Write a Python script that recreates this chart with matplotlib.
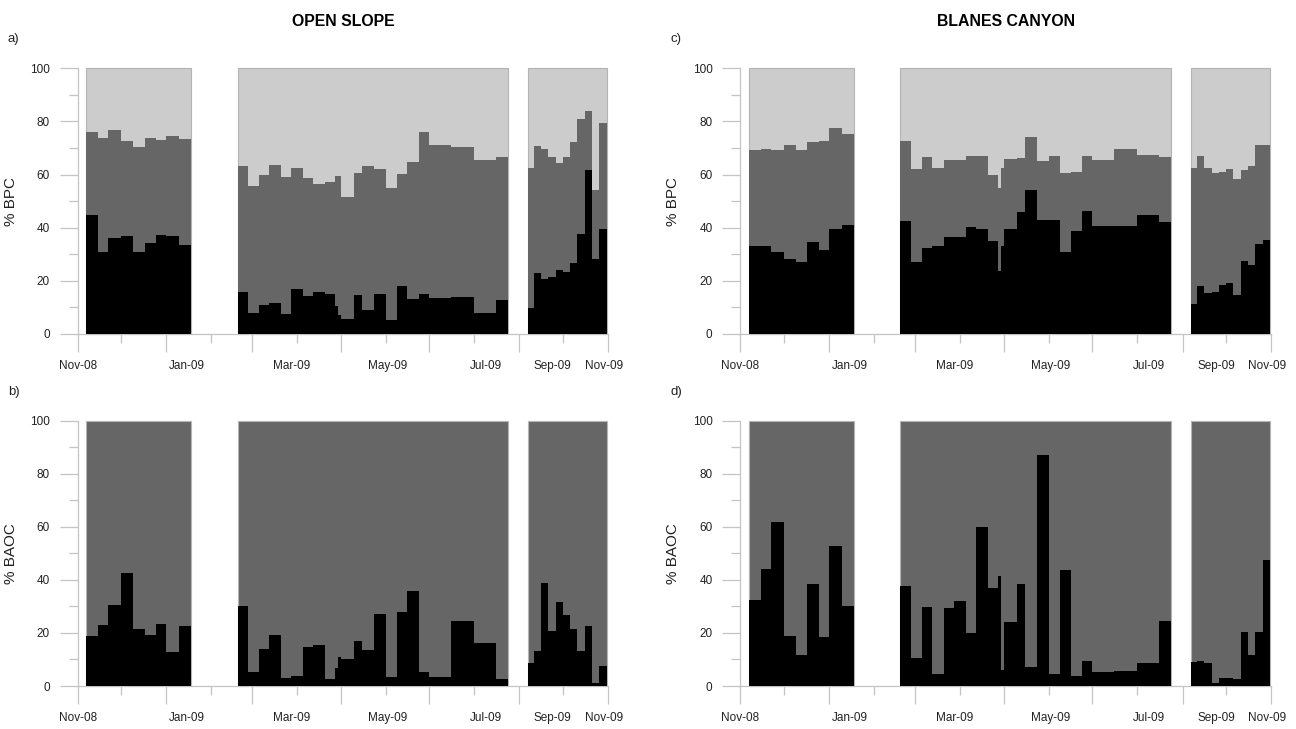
"""
Stacked step-area plots of % BPC and % BAOC,
Open Slope vs Blanes Canyon (Nov-08 to Nov-09)
"""

import numpy as np
import pandas as pd
import matplotlib
matplotlib.use('Agg')
import matplotlib.pyplot as plt
import matplotlib.dates as mdates
from matplotlib.ticker import NullFormatter, MultipleLocator

plt.rcParams['font.family'] = ['Liberation Sans', 'DejaVu Sans']

# Sampling periods: step edges (each step runs from one edge to the next)
edges_p1 = ['2008-11-07', '2008-11-15', '2008-11-22', '2008-12-01', '2008-12-09',
            '2008-12-17', '2008-12-25', '2009-01-01', '2009-01-10', '2009-01-18']
edges_p2 = ['2009-02-19', '2009-02-26', '2009-03-06', '2009-03-13', '2009-03-21',
            '2009-03-28', '2009-04-05', '2009-04-12', '2009-04-20', '2009-04-27',
            '2009-04-29', '2009-05-01', '2009-05-10', '2009-05-16', '2009-05-24',
            '2009-06-01', '2009-06-09', '2009-06-16', '2009-06-24', '2009-07-01',
            '2009-07-16', '2009-08-01', '2009-08-16', '2009-08-24']
edges_p3 = ['2009-09-07', '2009-09-11', '2009-09-16', '2009-09-21', '2009-09-26',
            '2009-10-01', '2009-10-06', '2009-10-11', '2009-10-16', '2009-10-21',
            '2009-10-26', '2009-10-31']

# a) Open slope, % BPC (bottom = black, middle = dark grey, rest = light grey)
os_bpc_bottom = [
    [44.7, 30.7, 36.0, 36.8, 30.9, 34.3, 37.3, 36.9, 33.4],
    [15.8, 8.0, 11.0, 11.8, 7.4, 16.8, 14.2, 15.8, 14.9, 10.5, 7.0, 5.6,
     14.7, 9.0, 14.9, 5.3, 17.9, 13.3, 14.9, 13.6, 13.9, 8.0, 12.7],
    [9.7, 22.8, 20.6, 21.3, 24.1, 23.2, 26.9, 37.6, 61.7, 28.2, 39.5],
]
os_bpc_middle = [
    [31.2, 43.2, 40.7, 35.7, 39.4, 39.6, 35.7, 37.6, 40.0],
    [47.4, 47.7, 48.7, 51.7, 51.7, 45.8, 44.4, 40.5, 42.3, 49.0, 52.5, 46.1,
     45.8, 54.2, 47.1, 49.5, 42.5, 51.3, 61.3, 57.7, 56.6, 57.6, 54.1],
    [52.7, 48.0, 48.9, 45.5, 40.1, 43.6, 45.4, 43.5, 22.4, 26.0, 39.8],
]

# b) Open slope, % BAOC (bottom = black, rest = dark grey)
os_baoc_bottom = [
    [18.7, 22.9, 30.5, 42.5, 21.4, 19.2, 23.2, 12.8, 22.5],
    [30.3, 5.4, 14.1, 19.3, 2.9, 3.6, 14.8, 15.3, 2.8, 6.7, 10.8, 10.1,
     16.8, 13.6, 27.0, 3.5, 27.8, 35.7, 5.2, 3.5, 24.5, 16.2, 2.5],
    [8.8, 13.2, 38.7, 20.6, 31.7, 26.9, 21.5, 13.3, 22.6, 1.3, 7.4],
]

# c) Blanes Canyon, % BPC
bc_bpc_bottom = [
    [33.0, 33.1, 30.7, 28.1, 27.2, 34.8, 31.6, 39.6, 41.0],
    [42.5, 27.2, 32.5, 33.1, 36.5, 36.4, 40.4, 39.6, 35.0, 23.7, 33.1, 39.6,
     46.0, 54.2, 42.8, 42.9, 30.7, 38.9, 46.4, 40.7, 40.7, 44.8, 42.0],
    [11.2, 18.1, 15.3, 15.9, 18.6, 19.2, 14.7, 27.4, 25.8, 33.8, 35.3],
]
bc_bpc_middle = [
    [36.3, 36.4, 38.7, 42.9, 42.1, 37.5, 40.9, 37.8, 34.2],
    [30.1, 34.8, 34.1, 29.5, 28.9, 29.2, 26.5, 27.3, 24.8, 31.1, 29.3, 26.3,
     20.2, 19.8, 22.2, 24.0, 29.8, 22.1, 20.7, 24.7, 28.8, 22.5, 24.5],
    [51.3, 49.0, 47.2, 44.6, 42.4, 43.0, 43.5, 34.2, 37.3, 37.2, 35.7],
]

# d) Blanes Canyon, % BAOC
bc_baoc_bottom = [
    [32.5, 44.0, 61.9, 18.8, 11.8, 38.3, 18.5, 52.8, 30.0],
    [37.7, 10.4, 29.6, 4.5, 29.3, 32.2, 20.1, 60.1, 36.8, 41.6, 6.0, 24.1,
     38.4, 7.0, 87.1, 4.4, 43.6, 3.9, 9.5, 5.2, 5.8, 8.5, 24.4],
    [9.0, 9.5, 8.5, 1.0, 3.0, 3.0, 2.5, 20.5, 11.5, 20.5, 47.5],
]

# x tick labels and where they sit
xlabel_text = ['Nov-08', 'Jan-09', 'Mar-09', 'May-09', 'Jul-09', 'Sep-09', 'Nov-09']
xlabel_dates = ['2008-11-01', '2009-01-15', '2009-03-28', '2009-06-02',
                '2009-08-09', '2009-09-24', '2009-10-29']

LIGHT = '#cccccc'
DARK = '#666666'
AXIS_GREY = '#c4c4c4'

periods = [mdates.date2num(pd.to_datetime(e)) for e in (edges_p1, edges_p2, edges_p3)]

fig = plt.figure(figsize=(12.96, 7.29), dpi=100)

positions = {
    'a': [0.05995, 0.54184, 0.40918, 0.36447],
    'b': [0.05995, 0.05898, 0.40918, 0.36393],
    'c': [0.57122, 0.54184, 0.40972, 0.36447],
    'd': [0.57122, 0.05898, 0.40972, 0.36393],
}

panels = [
    ('a', os_bpc_bottom, os_bpc_middle, '% BPC'),
    ('b', os_baoc_bottom, None, '% BAOC'),
    ('c', bc_bpc_bottom, bc_bpc_middle, '% BPC'),
    ('d', bc_baoc_bottom, None, '% BAOC'),
]


def steps(vals):
    vals = np.asarray(vals, dtype=float)
    return np.append(vals, vals[-1])


for key, bottom, middle, ylab in panels:
    ax = fig.add_axes(positions[key])

    for x, b_vals, i in zip(periods, bottom, range(3)):
        full = np.full(len(x), 100.0)
        top_col = LIGHT if middle is not None else DARK
        ax.fill_between(x, 0, full, step='post', facecolor=top_col,
                        edgecolor='#b4b4b4', linewidth=0.8, clip_on=False, zorder=1)
        if middle is not None:
            cum = steps(np.array(b_vals) + np.array(middle[i]))
            ax.fill_between(x, 0, cum, step='post', facecolor=DARK,
                            linewidth=0, zorder=2)
        ax.fill_between(x, 0, steps(b_vals), step='post', facecolor='black',
                        linewidth=0, zorder=3)

    ax.set_xlim(mdates.date2num(pd.Timestamp('2008-11-01')),
                mdates.date2num(pd.Timestamp('2009-11-01')))
    ax.set_ylim(0, 100)

    # Axes styling
    for side in ['top', 'right']:
        ax.spines[side].set_visible(False)
    for side in ['left', 'bottom']:
        ax.spines[side].set_color(AXIS_GREY)
        ax.spines[side].set_linewidth(0.9)

    ax.xaxis.set_major_locator(mdates.MonthLocator(bymonth=[1, 3, 5, 7, 9, 11]))
    ax.xaxis.set_minor_locator(mdates.MonthLocator(bymonth=[2, 4, 6, 8, 10, 12]))
    ax.xaxis.set_major_formatter(NullFormatter())
    ax.tick_params(axis='x', which='major', length=13, width=0.9, color=AXIS_GREY)
    ax.tick_params(axis='x', which='minor', length=6.5, width=0.9, color=AXIS_GREY)

    ax.set_yticks(range(0, 101, 20))
    ax.yaxis.set_minor_locator(MultipleLocator(10))
    ax.tick_params(axis='y', which='major', length=13, width=0.9, color=AXIS_GREY,
                   labelsize=8.5, labelcolor='#222222', pad=7)
    ax.tick_params(axis='y', which='minor', length=6.5, width=0.9, color=AXIS_GREY)

    ax.set_ylabel(ylab, fontsize=11, color='#222222')
    ax.yaxis.set_label_coords(-0.113, 0.5)

    for txt, d in zip(xlabel_text, xlabel_dates):
        ax.annotate(txt, xy=(mdates.date2num(pd.Timestamp(d)), 0),
                    xycoords=('data', 'axes fraction'),
                    xytext=(0, -23), textcoords='offset points',
                    ha='center', va='center', fontsize=8.5, color='#222222')

    # Panel letter
    pos = positions[key]
    fig.text(pos[0] - 0.0495, pos[1] + pos[3] + 0.04, key + ')',
             fontsize=9.5, ha='center', va='center', color='#222222')

# Column titles
for title, key in [('OPEN SLOPE', 'a'), ('BLANES CANYON', 'c')]:
    pos = positions[key]
    fig.text(pos[0] + pos[2] / 2, 0.970, title, fontsize=11.4, fontweight='bold',
             ha='center', va='center')

fig.savefig('out.png', dpi=100)
